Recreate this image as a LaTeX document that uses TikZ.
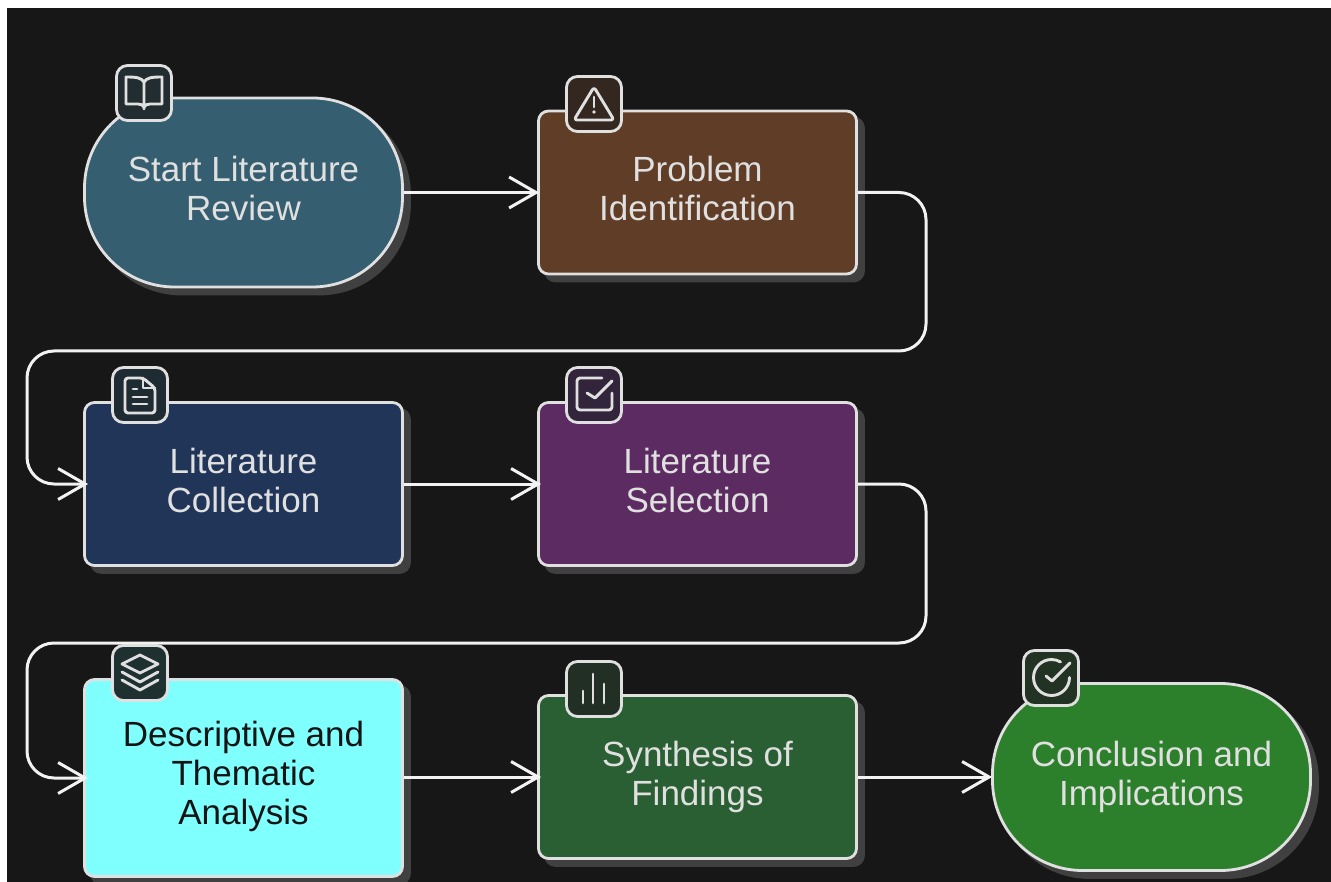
\documentclass[tikz,border=0pt]{standalone}
\usepackage{fontspec}
\setmainfont{Liberation Sans}
\usetikzlibrary{arrows.meta}
\definecolor{bgc}{HTML}{171717}
\definecolor{linec}{HTML}{E0E0E0}
\definecolor{shadowc}{HTML}{404040}
\definecolor{cstart}{HTML}{355F70}
\definecolor{cprob}{HTML}{603D27}
\definecolor{ccoll}{HTML}{203558}
\definecolor{csel}{HTML}{5C2B61}
\definecolor{cdesc}{HTML}{80FFFF}
\definecolor{csyn}{HTML}{2A5E33}
\definecolor{cconc}{HTML}{2C7F2B}
\definecolor{istart}{HTML}{222D31}
\definecolor{iprob}{HTML}{33271F}
\definecolor{icoll}{HTML}{1F2B33}
\definecolor{isel}{HTML}{32243A}
\definecolor{idesc}{HTML}{1E3030}
\definecolor{isyn}{HTML}{212F25}
\definecolor{iconc}{HTML}{233323}
\tikzset{
  x=1pt,y=-1pt,
  textdepth/.style={execute at end node={\rule[-#1]{0pt}{#1}}},
  flowbox/.style={draw=linec,line width=2.8pt,align=center,text=linec,
    font=\fontsize{35}{39}\selectfont,minimum width=318pt,inner sep=0pt,
    textdepth=7.4pt,
    preaction={fill=shadowc,draw=shadowc,transform canvas={xshift=7pt,yshift=-7pt}}},
  procbox/.style={flowbox,rounded corners=10pt,minimum height=163pt},
  termbox/.style={flowbox,rounded corners=90pt},
  iconbox/.style={draw=linec,line width=2.8pt,rounded corners=11pt,minimum width=55pt,minimum height=55pt,inner sep=0pt},
  conn/.style={draw=white!95!black,line width=3pt,rounded corners=27pt,
    -{Straight Barb[length=27pt,width=31pt,line width=3pt]}},
  glyph/.style={draw=linec,line width=2.9pt,line cap=round,line join=round},
}
\begin{document}
\begin{tikzpicture}
\useasboundingbox (0,0) rectangle (1331,882);
\fill[white] (0,0) rectangle (1331,882);
\fill[bgc] (7,8) rectangle (1331,882);

\node[termbox,fill=cstart,minimum height=189pt] (start) at (243.5,192.5) {Start Literature\\Review};
\node[procbox,fill=cprob] (problem) at (697.5,192.5) {Problem\\Identification};
\node[procbox,fill=ccoll] (collection) at (243.5,484) {Literature\\Collection};
\node[procbox,fill=csel] (selection) at (697.5,484) {Literature\\Selection};
\node[procbox,fill=cdesc,minimum height=197pt,text=black!92,textdepth=10pt] (analysis) at (243.5,778) {Descriptive and\\Thematic\\Analysis};
\node[procbox,fill=csyn] (synthesis) at (697.5,777) {Synthesis of\\Findings};
\node[termbox,fill=cconc,minimum height=187pt] (conclusion) at (1151.5,777) {Conclusion and\\Implications};

\coordinate (r1) at (926,351);
\coordinate (l1) at (27,351);
\coordinate (r2) at (926,643);
\coordinate (l2) at (27,643);

\draw[conn,shorten >=-2pt] (start.east) -- (problem.west);
\draw[conn,shorten >=-5pt] (problem.east) -| (r1) -- (l1) |- (collection.west);
\draw[conn,shorten >=-4pt] (collection.east) -- (selection.west);
\draw[conn,shorten >=-5pt] (selection.east) -| (r2) -- (l2) |- (analysis.west);
\draw[conn,shorten >=-4pt] (analysis.east |- synthesis.west) -- (synthesis.west);
\draw[conn,shorten >=-1pt] (synthesis.east) -- (conclusion.west);

% icon boxes
\node[iconbox,fill=istart] (ibook) at (144,93) {};
\node[iconbox,fill=iprob] (iwarn) at (594,104) {};
\node[iconbox,fill=icoll] (idoc) at (140,395) {};
\node[iconbox,fill=isel] (icheck) at (594,395) {};
\node[iconbox,fill=idesc] (ilayers) at (140,673) {};
\node[iconbox,fill=isyn] (ibars) at (594,689) {};
\node[iconbox,fill=iconc] (idone) at (1051,678) {};

% book
\begin{scope}[shift={(ibook.center)}]
\draw[glyph] (0,-11) .. controls (-3,-15) and (-6,-16) .. (-18,-16) -- (-18,11) -- (-6,11) .. controls (-3,11) and (-1,12) .. (0,14) .. controls (1,12) and (3,11) .. (6,11) -- (18,11) -- (18,-16) .. controls (6,-16) and (3,-15) .. (0,-11) -- (0,16);
\end{scope}
% warning triangle
\begin{scope}[shift={(iwarn.center)}]
\draw[glyph,rounded corners=3pt] (0,-17) -- (-20,16) -- (20,16) -- cycle;
\draw[glyph] (0,-7) -- (0,3);
\fill[linec] (0,8) circle (1.8pt);
\end{scope}
% document
\begin{scope}[shift={(idoc.center)}]
\draw[glyph,rounded corners=3pt] (3,-17) -- (-15,-17) -- (-15,18) -- (15,18) -- (15,-7) -- cycle;
\draw[glyph] (3,-17) -- (3,-7) -- (15,-7);
\draw[glyph] (-7,-6) -- (-3,-6) (-7,2) -- (7,2) (-7,9) -- (7,9);
\end{scope}
% checkbox
\begin{scope}[shift={(icheck.center)}]
\draw[glyph,rounded corners=3pt] (8,-17) -- (-17,-17) -- (-17,15) -- (18,15) -- (18,-2);
\draw[glyph] (-7,-2) -- (1,3) -- (18,-14);
\end{scope}
% layers
\begin{scope}[shift={(ilayers.center)}]
\draw[glyph] (0,-18) -- (18,-9) -- (0,0) -- (-18,-9) -- cycle;
\draw[glyph] (-18,-1) -- (0,9) -- (18,-1);
\draw[glyph] (-18,7) -- (0,17) -- (18,7);
\end{scope}
% bars
\begin{scope}[shift={(ibars.center)}]
\draw[glyph] (-11,2) -- (-11,14) (-1,-15) -- (-1,14) (10,-5) -- (10,14);
\end{scope}
% check circle
\begin{scope}[shift={(idone.center)}]
\draw[glyph] (18.5,-0.5) arc[start angle=0,end angle=300,radius=18];
\draw[glyph] (-5,-2) -- (1,3) -- (19,-15);
\end{scope}
\end{tikzpicture}
\end{document}
